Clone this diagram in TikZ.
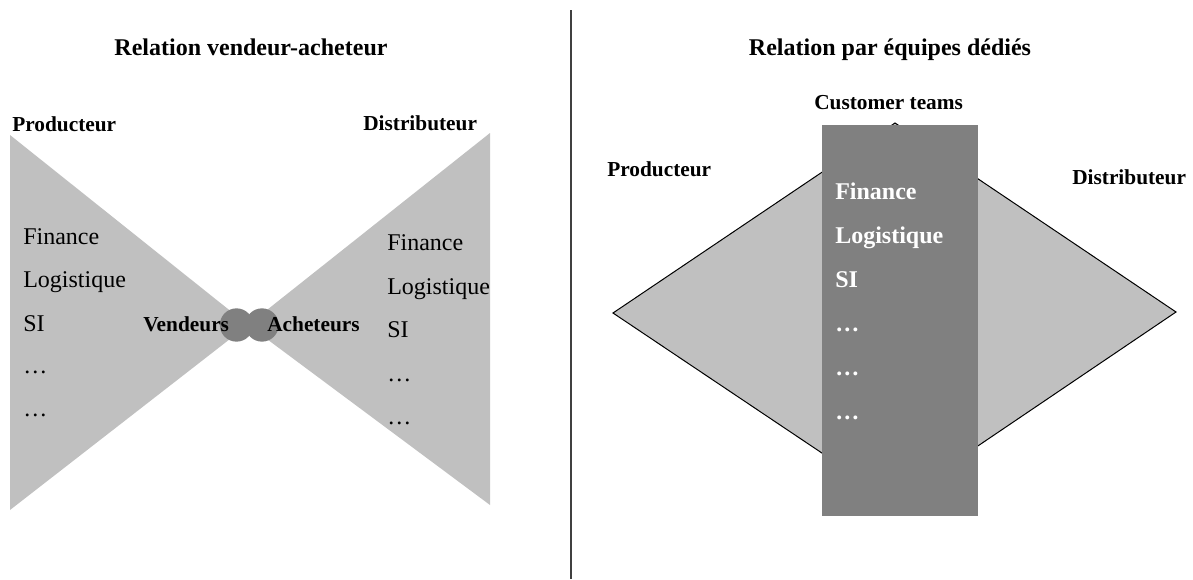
\documentclass[tikz,border=0pt]{standalone}
\usepackage{fontspec}
\setmainfont{Liberation Serif}
\usepackage{xcolor}
\usetikzlibrary{positioning}
\definecolor{gris}{HTML}{C0C0C0}
\definecolor{grisfonce}{HTML}{808080}

\begin{document}
\begin{tikzpicture}[x=0.75pt,y=-0.75pt,
titre/.style={font=\fontsize{18}{20}\selectfont\bfseries,inner sep=0pt,anchor=base},
acteur/.style={font=\fontsize{16}{18}\selectfont\bfseries,inner sep=0pt,anchor=base west},
item/.style={font=\fontsize{18}{20}\selectfont,inner sep=0pt,anchor=base west},
equipe/.style={font=\fontsize{18}{20}\selectfont\bfseries,text=white,inner sep=0pt,anchor=base west}]
\useasboundingbox(0,0)rectangle(1193,579);
% titres et separation
\node[titre](tg)at(251,55){Relation vendeur-acheteur};
\node[titre](td)at(890,55){Relation par équipes dédiés};
\coordinate(sh)at(571,10);
\coordinate(sb)at(571,579);
\draw[line width=1.1pt,black!75](sh)--(sb);
% noeud papillon
\fill[gris](10,135)--(10,510)--(248,325)--cycle;
\fill[gris](490,133)--(490,505)--(248,325)--cycle;
\node[circle,fill=grisfonce,inner sep=0pt,minimum size=25](cv)at(236.5,325){};
\node[circle,fill=grisfonce,inner sep=0pt,minimum size=25](ca)at(262,325){};
\node[acteur](prodg)at(12,131){Producteur};
\node[acteur](distg)at(363,130){Distributeur};
\node[acteur](vend)at(143,331){Vendeurs};
\node[acteur](ach)at(267,331){Acheteurs};
\node[item](gfin)at(23,244){Finance};
\node[item](glog)at(23,287){Logistique};
\node[item](gsi)at(23,331){SI};
\node[item](gp1)at(23,373){…};
\node[item](gp2)at(23,416){…};
\node[item](dfin)at(387,250){Finance};
\node[item](dlog)at(387,294){Logistique};
\node[item](dsi)at(387,337){SI};
\node[item](dp1)at(387,381){…};
\node[item](dp2)at(387,424){…};
% equipes dediees
\draw[fill=gris,line width=0.75pt](613,313)--(895,123)--(1176,312)--(895,502)--cycle;
\fill[grisfonce](822,125)rectangle(978,516);
\node[acteur](cust)at(814,109){Customer teams};
\node[acteur](prodd)at(607,176){Producteur};
\node[acteur](distd)at(1072,184){Distributeur};
\node[equipe](efin)at(835,199){Finance};
\node[equipe](elog)at(835,243){Logistique};
\node[equipe](esi)at(835,287){SI};
\node[equipe](ep1)at(835,331){…};
\node[equipe](ep2)at(835,375){…};
\node[equipe](ep3)at(835,419){…};
\end{tikzpicture}
\end{document}
